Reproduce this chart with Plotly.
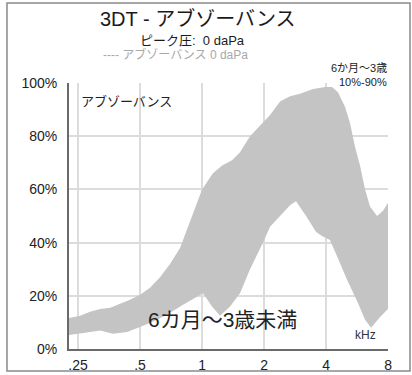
import plotly.graph_objects as go

# 90th percentile (upper edge of the normative band), frequency in kHz, absorbance in %
freq_p90 = [0.226, 0.256, 0.286, 0.320, 0.358, 0.400, 0.447, 0.500, 0.559, 0.625,
            0.699, 0.782, 0.874, 1.000, 1.127, 1.251, 1.399, 1.529, 1.710, 1.912,
            2.139, 2.392, 2.675, 2.990, 3.460, 3.960, 4.280, 4.570, 4.950, 5.230,
            5.530, 5.850, 6.190, 6.540, 7.080, 7.570, 8.000]
p90 = [11.7, 12.5, 14.0, 15.0, 15.5, 17.0, 18.5, 20.4, 23.0, 27.0,
       32.0, 38.0, 48.0, 60.0, 66.0, 69.0, 71.0, 74.0, 80.0, 84.0,
       88.0, 93.0, 95.0, 96.0, 97.7, 98.5, 98.5, 96.5, 91.0, 85.0,
       76.0, 69.0, 60.0, 53.6, 50.0, 52.0, 55.0]

# 10th percentile (lower edge of the normative band)
freq_p10 = [0.226, 0.286, 0.320, 0.370, 0.432, 0.500, 0.605, 0.699, 0.809, 0.946,
            1.011, 1.118, 1.223, 1.368, 1.529, 1.710, 1.978, 2.139, 2.392, 2.675,
            2.860, 3.200, 3.580, 3.820, 4.180, 4.520, 5.060, 5.660, 6.190, 6.620,
            7.320, 8.000]
p10 = [5.3, 6.4, 7.0, 5.7, 6.4, 8.3, 11.0, 13.6, 16.6, 19.6,
       21.0, 16.0, 12.5, 16.0, 21.0, 30.0, 40.0, 46.0, 50.0, 54.0,
       55.5, 50.0, 44.0, 42.5, 41.0, 35.0, 26.0, 18.0, 11.0, 8.0,
       12.0, 15.0]

x_ticks = [0.25, 0.5, 1, 2, 4, 8]
x_tick_text = [".25", ".5", "1", "2", "4", "8"]
y_ticks = [0, 20, 40, 60, 80, 100]
y_tick_text = ["0%", "20%", "40%", "60%", "80%", "100%"]

FONT = "Liberation Sans, Arial, Noto Sans CJK JP, sans-serif"

fig = go.Figure()
fig.add_trace(go.Scatter(
    x=freq_p90 + freq_p10[::-1],
    y=p90 + p10[::-1],
    fill="toself",
    fillcolor="#c4c4c4",
    line=dict(width=0),
    mode="lines",
    hoverinfo="skip",
    showlegend=False,
))

fig.update_layout(
    width=412, height=375,
    margin=dict(l=69, r=24, t=83, b=26),
    paper_bgcolor="white",
    plot_bgcolor="white",
    font=dict(family=FONT, color="#222"),
    showlegend=False,
    xaxis=dict(
        type="log", range=[-0.646, 0.903],
        tickvals=x_ticks, ticktext=x_tick_text,
        tickfont=dict(size=14, color="#222"),
        showgrid=True, gridcolor="#dcdcdc", gridwidth=1.5,
        showline=True, linecolor="#6a6a6a", linewidth=2,
        ticks="", ticklabelstandoff=2, automargin=False,
        zeroline=False, fixedrange=True,
    ),
    yaxis=dict(
        range=[0, 100],
        tickvals=y_ticks, ticktext=y_tick_text,
        tickfont=dict(size=14, color="#222"),
        showgrid=True, gridcolor="#dcdcdc", gridwidth=1.5,
        showline=True, linecolor="#6a6a6a", linewidth=2,
        ticks="", ticklabelstandoff=7, automargin=False,
        zeroline=False, fixedrange=True,
    ),
)

# outer frame around the whole chart
fig.add_shape(type="rect", xref="paper", yref="paper",
              x0=-0.1944, x1=1.069, y0=-0.0827, y1=1.3008,
              line=dict(color="#8a8a8a", width=1.5), layer="above")

def label(text, x, y, size, color="#222", xanchor="center"):
    fig.add_annotation(text=text, x=x, y=y, xref="paper", yref="paper",
                       xanchor=xanchor, yanchor="middle", showarrow=False,
                       borderpad=0,
                       font=dict(size=size, color=color, family=FONT))

# pixel helpers for placing header text relative to the plot area
def px_x(px):
    return (px - 69) / 319

def px_y(py):
    return (349 - py) / 266

label("3DT - アブゾーバンス", px_x(198), px_y(18), 20, "#1a1a1a")
label("ピーク圧:  0 daPa", px_x(192), px_y(40), 13, "#1a1a1a")
label("---- アブゾーバンス 0 daPa", px_x(175), px_y(55), 12, "#a8a8a8")
label("6か月～3歳", px_x(388), px_y(68), 11, "#222", xanchor="right")
label("10%-90%", px_x(388), px_y(82), 11, "#222", xanchor="right")
label("アブゾーバンス", px_x(80), px_y(101), 13, "#222", xanchor="left")
label("6カ月～3歳未満", px_x(222), px_y(319), 21, "#222")
label("kHz", px_x(365), px_y(335), 12, "#333")

fig.write_html("out.html")
